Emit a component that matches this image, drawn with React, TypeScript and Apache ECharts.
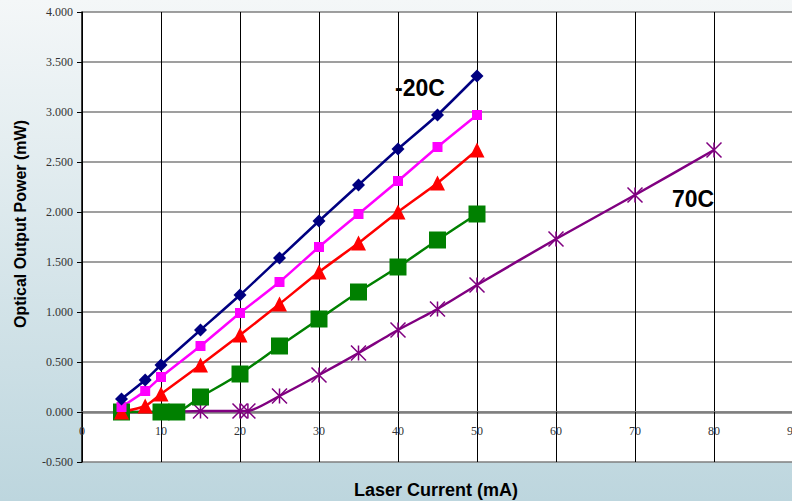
import React, { useEffect, useRef } from "react";
import * as echarts from "echarts";

const xTicks = [0, 10, 20, 30, 40, 50, 60, 70, 80, 90];
const yTicks = [-0.5, 0, 0.5, 1, 1.5, 2, 2.5, 3, 3.5, 4];

const navyX = [5, 8, 10, 15, 20, 25, 30, 35, 40, 45, 50];
const navyY = [0.13, 0.32, 0.47, 0.82, 1.17, 1.54, 1.91, 2.27, 2.63, 2.97, 3.36];

const pinkX = [5, 8, 10, 15, 20, 25, 30, 35, 40, 45, 50];
const pinkY = [0.05, 0.21, 0.35, 0.66, 0.99, 1.3, 1.65, 1.98, 2.31, 2.65, 2.97];

const redX = [5, 8, 10, 15, 20, 25, 30, 35, 40, 45, 50];
const redY = [0.0, 0.06, 0.18, 0.47, 0.77, 1.08, 1.4, 1.69, 2.0, 2.29, 2.62];

const greenX = [5, 10, 12, 15, 20, 25, 30, 35, 40, 45, 50];
const greenY = [0.0, 0.0, 0.0, 0.15, 0.38, 0.66, 0.93, 1.2, 1.45, 1.72, 1.98];

const purpleX = [5, 10, 15, 20, 21, 25, 30, 35, 40, 45, 50, 60, 70, 80];
const purpleY = [0.0, 0.0, 0.01, 0.01, 0.01, 0.16, 0.37, 0.59, 0.82, 1.03, 1.27, 1.73, 2.17, 2.62];

const zip = (xs: number[], ys: number[]) => xs.map((x, i) => [x, ys[i]]);

const STAR = "path://M0,0L10,10M10,0L0,10M5,0L5,10";

export default function App() {
  const ref = useRef<HTMLDivElement>(null);
  useEffect(() => {
    if (!ref.current) return;
    const chart = echarts.init(ref.current, undefined, { renderer: "svg" });
    const serif = "Liberation Serif";
    const sans = "Liberation Sans";
    const mk = (
      name: string,
      data: number[][],
      color: string,
      symbol: string,
      size: number,
      extra: any = {}
    ) => ({
      type: "line",
      name,
      data,
      smooth: 0.2,
      symbol,
      symbolSize: size,
      showAllSymbol: true,
      lineStyle: { color, width: 2.5 },
      itemStyle: { color },
      ...extra,
    });
    chart.setOption({
      animation: false,
      backgroundColor: new echarts.graphic.LinearGradient(0, 0, 0, 1, [
        { offset: 0, color: "#f4f7f8" },
        { offset: 1, color: "#bdd6de" },
      ]),
      grid: {
        left: 82,
        top: 12,
        width: 790,
        height: 450,
        outerBoundsMode: "none",
        containLabel: false,
        show: true,
        backgroundColor: "#ffffff",
        borderWidth: 0,
      },
      xAxis: {
        type: "value",
        min: 0,
        max: 100,
        interval: 10,
        offset: -50,
        axisLine: { onZero: false, lineStyle: { color: "#7f7f7f", width: 2.5 } },
        axisTick: { show: true, inside: false, length: 4, lineStyle: { color: "#000" } },
        axisLabel: {
          fontFamily: serif,
          fontSize: 12,
          color: "#333",
          margin: 13,
          formatter: (v: number) => (xTicks.includes(v) ? String(v) : ""),
        },
        splitLine: { show: true, lineStyle: { color: "#000", width: 1 } },
      },
      yAxis: {
        type: "value",
        min: -0.5,
        max: 4,
        interval: 0.5,
        axisLine: { show: true, onZero: false, lineStyle: { color: "#000", width: 1.5 } },
        axisTick: { show: true, length: 5, lineStyle: { color: "#000" } },
        axisLabel: {
          fontFamily: serif,
          fontSize: 12,
          color: "#333",
          margin: 9,
          formatter: (v: number) => (yTicks.some((t) => Math.abs(t - v) < 1e-9) ? v.toFixed(3) : ""),
        },
        splitLine: { show: true, lineStyle: { color: "#7f7f7f", width: 1.5 } },
      },
      series: [
        mk("70C", zip(purpleX, purpleY), "#800080", STAR, 15, {
          itemStyle: { color: "transparent", borderColor: "#800080", borderWidth: 1.5 },
        }),
        mk("green", zip(greenX, greenY), "#008000", "rect", 17),
        mk("red", zip(redX, redY), "#ff0000", "triangle", 15),
        mk("pink", zip(pinkX, pinkY), "#ff00ff", "rect", 10),
        mk("-20C", zip(navyX, navyY), "#000080", "diamond", 13),
      ],
      graphic: [
        {
          type: "text",
          left: 395,
          top: 76,
          style: { text: "-20C", font: `bold 23px ${sans}`, fill: "#000" },
        },
        {
          type: "text",
          left: 672,
          top: 187,
          style: { text: "70C", font: `bold 23px ${sans}`, fill: "#000" },
        },
        {
          type: "text",
          x: 436,
          y: 490,
          style: {
            text: "Laser Current (mA)",
            font: `bold 18px ${sans}`,
            fill: "#000",
            align: "center",
            verticalAlign: "middle",
          },
        },
        {
          type: "text",
          x: 20,
          y: 224,
          rotation: Math.PI / 2,
          style: {
            text: "Optical Output Power (mW)",
            font: `bold 16px ${sans}`,
            fill: "#000",
            align: "center",
            verticalAlign: "middle",
          },
        },
      ],
    });
    return () => chart.dispose();
  }, []);
  return (
    <div
      ref={ref}
      style={{ position: "fixed", left: 0, top: 0, width: 792, height: 501 }}
    />
  );
}
